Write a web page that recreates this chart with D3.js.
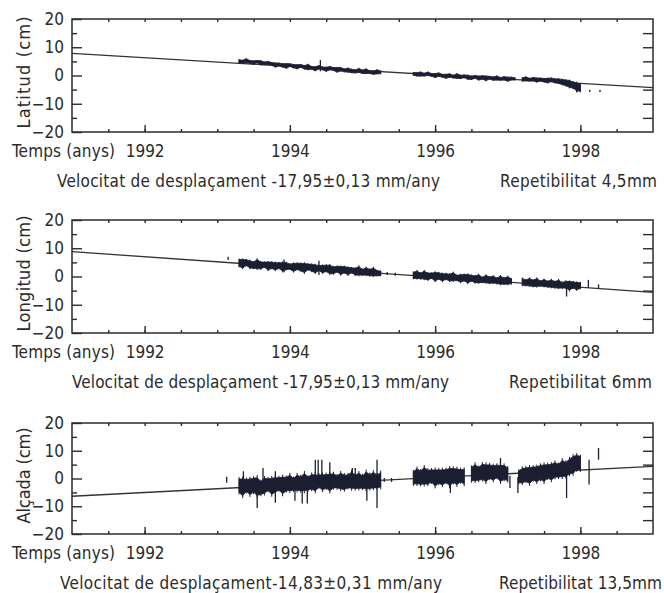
<!DOCTYPE html>
<html lang="ca">
<head>
<meta charset="UTF-8">
<title>GPS series</title>
<script src="https://cdn.jsdelivr.net/npm/d3@7"></script>
<style>
  body { margin: 0; background: #fff; }
  svg { display: block; }
  text { font-family: "DejaVu Sans Condensed", "DejaVu Sans", sans-serif; fill: #2b2b2b; }
</style>
</head>
<body>
<script>
// epochs (decimal years) of the plotted daily-solution bands
const epochs = [
  1993.30, 1993.35, 1993.40, 1993.45, 1993.50, 1993.55, 1993.60, 1993.65, 1993.70, 1993.75,
  1993.80, 1993.85, 1993.90, 1993.95, 1994.00, 1994.05, 1994.10, 1994.15, 1994.20, 1994.25,
  1994.30, 1994.35, 1994.40, 1994.45, 1994.50, 1994.55, 1994.60, 1994.65, 1994.70, 1994.75,
  1994.80, 1994.85, 1994.90, 1994.95, 1995.00, 1995.05, 1995.10, 1995.15, 1995.20, 1995.25,
  1995.30, 1995.35, 1995.40, 1995.45, 1995.50, 1995.55, 1995.60, 1995.65, 1995.70, 1995.75,
  1995.80, 1995.85, 1995.90, 1995.95, 1996.00, 1996.05, 1996.10, 1996.15, 1996.20, 1996.25,
  1996.30, 1996.35, 1996.40, 1996.45, 1996.50, 1996.55, 1996.60, 1996.65, 1996.70, 1996.75,
  1996.80, 1996.85, 1996.90, 1996.95, 1997.00, 1997.05, 1997.10, 1997.15, 1997.20, 1997.25,
  1997.30, 1997.35, 1997.40, 1997.45, 1997.50, 1997.55, 1997.60, 1997.65, 1997.70, 1997.75,
  1997.80, 1997.85, 1997.90, 1997.95, 1998.00
];

// Latitud (cm): band centre and half width
const latMid = [
  5.0, 4.9, 5.2, 4.8, 4.6, 4.9, 4.5, 4.3, 4.4, 4.1,
  3.7, 3.9, 3.6, 3.4, 3.7, 3.3, 3.1, 3.4, 2.9, 3.0,
  2.7, 2.4, 2.9, 2.5, 2.2, 2.6, 2.3, 2.0, 2.2, 1.8,
  1.9, 1.6, 1.4, 1.8, 1.3, 1.5, 1.2, 1.0, 1.3, 1.1,
  null, null, null, null, null, null, null, null, 0.6, 0.4,
  0.5, 0.3, 0.6, 0.2, 0.0, 0.3, -0.1, -0.3, 0.0, -0.4,
  -0.2, -0.5, -0.3, -0.6, -0.8, -0.5, -0.9, -0.7, -1.0, -0.8,
  -1.1, -0.9, -1.2, -1.0, -1.3, -1.1, -1.2, null, -1.4, -1.2,
  -1.5, -1.3, -1.6, -1.4, -1.7, -1.8, -1.5, -1.9, -2.0, -2.3,
  -2.6, -3.0, -3.4, -4.0, -4.4
];
const latHalf = [
  0.6, 0.5, 0.7, 0.5, 0.6, 0.4, 0.7, 0.5, 0.6, 0.5,
  0.7, 0.5, 0.6, 0.8, 0.5, 0.6, 0.7, 0.5, 0.6, 0.9,
  0.5, 0.7, 0.6, 0.5, 0.7, 0.6, 0.5, 0.8, 0.6, 0.5,
  0.7, 0.6, 0.5, 0.7, 0.6, 0.8, 0.5, 0.6, 0.7, 0.5,
  0, 0, 0, 0, 0, 0, 0, 0, 0.5, 0.6,
  0.7, 0.5, 0.6, 0.5, 0.7, 0.6, 0.5, 0.7, 0.6, 0.5,
  0.8, 0.6, 0.5, 0.7, 0.6, 0.5, 0.7, 0.6, 0.8, 0.5,
  0.6, 0.7, 0.5, 0.6, 0.7, 0.5, 0.4, 0, 0.6, 0.7,
  0.5, 0.6, 0.7, 0.5, 0.6, 0.8, 0.6, 0.7, 0.8, 0.9,
  1.0, 1.2, 1.1, 1.4, 1.2
];
const latSpikes = [[1994.42, 1.5, 5.5], [1997.95, -6.0, -3.0], [1998.13, -5.8, -5.0], [1998.27, -5.8, -5.0]];

// Longitud (cm)
const lonMid = [
  4.8, 4.5, 4.9, 4.3, 4.0, 4.4, 3.9, 4.2, 3.7, 4.0,
  3.6, 3.9, 3.4, 3.7, 3.5, 3.2, 3.6, 3.3, 3.0, 3.4,
  3.1, 2.7, 3.0, 2.6, 2.9, 2.5, 2.2, 2.6, 2.1, 2.4,
  1.9, 2.2, 1.7, 2.0, 1.5, 1.8, 1.4, 1.6, 1.2, 1.1,
  null, null, null, null, null, null, null, null, 0.4, 0.6,
  0.2, 0.5, 0.0, 0.3, -0.1, 0.2, -0.3, 0.0, -0.4, -0.1,
  -0.5, -0.7, -0.4, -0.8, -0.6, -1.0, -0.8, -1.2, -0.9, -1.3,
  -1.1, -1.5, -1.3, -1.6, -1.4, -1.7, null, null, -1.9, -2.2,
  -2.0, -2.4, -2.1, -2.5, -2.3, -2.7, -2.5, -2.9, -2.7, -3.1,
  -2.9, -3.3, -3.0, -3.4, -3.2
];
const lonHalf = [
  1.2, 1.5, 1.0, 1.3, 1.1, 1.6, 1.2, 0.9, 1.4, 1.1,
  1.3, 1.0, 1.5, 1.2, 0.9, 1.4, 1.1, 1.3, 1.6, 1.0,
  1.2, 1.4, 0.9, 1.3, 1.1, 1.5, 1.2, 1.0, 1.4, 1.1,
  1.3, 0.9, 1.2, 1.5, 1.0, 1.3, 1.1, 1.4, 0.9, 0.8,
  0, 0, 0, 0, 0, 0, 0, 0, 1.1, 1.3,
  1.0, 1.4, 1.2, 0.9, 1.5, 1.1, 1.3, 1.0, 1.2, 1.4,
  0.9, 1.3, 1.1, 1.5, 1.0, 1.2, 1.4, 0.9, 1.3, 1.1,
  1.2, 1.0, 1.4, 1.1, 1.3, 0.9, 0, 0, 1.2, 1.0,
  1.3, 1.1, 1.4, 0.9, 1.2, 1.0, 1.3, 1.1, 1.4, 1.0,
  1.2, 1.5, 1.1, 1.3, 1.0
];
const lonSpikes = [
  [1993.15, 5.8, 7.0], [1993.92, 1.5, 6.0], [1994.40, 0.5, 5.6], [1995.34, 0.5, 1.6],
  [1995.45, 0.3, 1.3], [1997.81, -7.1, -2.0], [1998.11, -4.1, -1.2], [1998.25, -4.1, -2.8]
];

// Alçada (cm)
const altMid = [
  -2.6, -3.2, -2.5, -3.0, -2.4, -2.9, -3.4, -2.6, -2.2, -2.8,
  -2.3, -1.9, -2.5, -2.0, -1.6, -2.1, -1.5, -1.9, -1.3, -1.8,
  -1.2, -1.6, -0.9, -1.4, -1.0, -1.5, -0.8, -1.2, -0.9, -1.4,
  -1.0, -0.6, -1.2, -0.8, -1.3, -0.7, -1.1, -0.6, -1.0, -0.5,
  null, null, null, null, null, null, null, null, 0.2, 0.8,
  0.3, 1.0, 0.5, 0.9, 0.2, 0.7, 0.4, 0.9, 0.5, 1.1,
  0.6, 1.0, 0.6, null, 1.6, 2.1, 1.7, 2.4, 1.9, 2.5,
  2.0, 2.6, 1.8, 2.2, 1.5, null, null, 0.6, 1.0, 1.4,
  1.1, 1.8, 1.5, 2.2, 1.9, 2.6, 2.3, 3.1, 2.8, 3.6,
  3.3, 4.3, 4.9, 5.8, 5.5
];
const altHalf = [
  2.4, 3.0, 2.2, 2.8, 2.5, 3.2, 2.3, 2.7, 2.1, 2.9,
  2.6, 2.2, 3.0, 2.4, 2.8, 2.1, 2.7, 2.5, 3.1, 2.3,
  2.6, 2.9, 2.2, 2.7, 2.4, 3.0, 2.5, 2.2, 2.8, 2.6,
  2.3, 2.9, 2.4, 2.7, 2.2, 3.0, 2.5, 2.8, 2.3, 2.6,
  0, 0, 0, 0, 0, 0, 0, 0, 2.2, 2.7,
  2.4, 3.0, 2.5, 2.2, 2.9, 2.4, 2.7, 2.3, 3.1, 2.5,
  2.8, 2.2, 2.6, 0, 2.4, 2.9, 2.3, 2.7, 3.0, 2.4,
  2.6, 2.2, 2.9, 2.5, 2.3, 0, 0, 2.1, 2.6, 2.4,
  2.9, 2.3, 2.7, 2.5, 3.0, 2.4, 2.8, 2.6, 2.3, 2.9,
  2.5, 2.7, 3.0, 2.6, 2.4
];
const altSpikes = [
  [1993.13, -1.5, 0.6], [1993.36, -4.0, 2.6], [1993.55, -10.6, -3.0], [1993.63, -2.0, 3.8],
  [1993.80, -8.7, 2.6], [1994.07, -8.0, -2.0], [1994.17, -9.0, -2.0], [1994.24, -9.0, -2.0],
  [1994.35, -1.0, 6.8], [1994.39, -1.0, 6.8], [1994.44, -1.0, 6.8], [1994.55, -1.0, 5.9],
  [1994.86, -1.0, 3.8], [1994.90, -1.0, 3.8], [1995.06, -8.0, -1.0], [1995.20, -10.6, 6.8],
  [1995.30, -1.2, 0.2], [1995.40, -1.2, 0.2], [1996.21, -5.2, 0.0], [1996.90, 1.0, 7.4],
  [1997.03, -3.4, 1.0], [1997.14, -5.2, 0.5], [1997.81, -7.0, 3.0], [1998.12, -2.2, 6.8],
  [1998.25, 6.8, 11.0]
];

// linear trends, value at 1991 and at 1999
const latTrend = [7.8, -4.3];
const lonTrend = [8.8, -5.6];
const altTrend = [-6.4, 4.4];

const axisTitles = ['Latitud (cm)', 'Longitud (cm)', 'Alçada (cm)'];
const speedLabels = [
  'Velocitat de desplaçament -17,95±0,13 mm/any',
  'Velocitat de desplaçament -17,95±0,13 mm/any',
  'Velocitat de desplaçament-14,83±0,31 mm/any'
];
const repeatLabels = ['Repetibilitat 4,5mm', 'Repetibilitat 6mm', 'Repetibilitat 13,5mm'];
const yearLabels = [1992, 1994, 1996, 1998];
const timeTitle = 'Temps (anys)';

let width = 664;
let height = 593;
let ink = '#2b2b2b';
let markColor = '#1c1f31';

let panels = [
  { mid: latMid, half: latHalf, spikes: latSpikes, trend: latTrend, top: 19, bottom: 132,
    titleLen: 112, speedX: 57, speedLen: 383, repX: 500, repLen: 157 },
  { mid: lonMid, half: lonHalf, spikes: lonSpikes, trend: lonTrend, top: 220, bottom: 333,
    titleLen: 116, speedX: 72, speedLen: 377, repX: 509, repLen: 143 },
  { mid: altMid, half: altHalf, spikes: altSpikes, trend: altTrend, top: 423, bottom: 534,
    titleLen: 96, speedX: 60, speedLen: 382, repX: 499, repLen: 163 }
];

let svg = d3.select('body').append('svg')
  .attr('width', width)
  .attr('height', height);

let x = d3.scaleLinear().domain([1991, 1999]).range([72, 653]);

panels.forEach(function (p, i) {
  let y = d3.scaleLinear().domain([-20, 20]).range([p.bottom, p.top]);
  let g = svg.append('g');

  // trend line
  g.append('line')
    .attr('x1', x(1991)).attr('y1', y(p.trend[0]))
    .attr('x2', x(1999)).attr('y2', y(p.trend[1]))
    .attr('stroke', '#333').attr('stroke-width', 1.3);

  // daily solution band
  let pts = epochs.map(function (t, j) {
    return { t: t, mid: p.mid[j], half: p.half[j] };
  });

  let band = d3.area()
    .defined(function (d) { return d.mid !== null; })
    .x(function (d) { return x(d.t); })
    .y0(function (d) { return y(d.mid - d.half); })
    .y1(function (d) { return y(d.mid + d.half); });

  g.append('path')
    .datum(pts)
    .attr('d', band)
    .attr('fill', markColor)
    .attr('stroke', markColor)
    .attr('stroke-width', 0.8)
    .attr('stroke-linejoin', 'round');

  // error bars at each epoch, a touch longer than the band, give the grainy texture
  g.selectAll('line.bar').data(pts.filter(function (d) { return d.mid !== null; }))
    .enter().append('line')
    .attr('class', 'bar')
    .attr('x1', function (d) { return x(d.t); })
    .attr('x2', function (d) { return x(d.t); })
    .attr('y1', function (d) { return y(d.mid - d.half * 1.3); })
    .attr('y2', function (d) { return y(d.mid + d.half * 1.3); })
    .attr('stroke', markColor).attr('stroke-width', 1);

  g.selectAll('line.spike').data(p.spikes).enter().append('line')
    .attr('class', 'spike')
    .attr('x1', function (d) { return x(d[0]); })
    .attr('x2', function (d) { return x(d[0]); })
    .attr('y1', function (d) { return y(d[1]); })
    .attr('y2', function (d) { return y(d[2]); })
    .attr('stroke', markColor).attr('stroke-width', 1.3);

  // frame
  g.append('rect')
    .attr('x', x(1991)).attr('y', p.top)
    .attr('width', x(1999) - x(1991)).attr('height', p.bottom - p.top)
    .attr('fill', 'none').attr('stroke', ink).attr('stroke-width', 1.5);

  let halfYears = d3.range(1991.5, 1999, 0.5);

  // bottom: major ticks with labels, minor half-year ticks
  let major = g.append('g')
    .attr('transform', 'translate(0,' + p.bottom + ')')
    .call(d3.axisBottom(x).tickValues(yearLabels).tickSize(-7).tickFormat(d3.format('d')));
  major.selectAll('text').attr('y', 25).attr('dy', 0);

  g.append('g')
    .attr('transform', 'translate(0,' + p.bottom + ')')
    .call(d3.axisBottom(x).tickValues(halfYears).tickSize(-3).tickFormat(''));

  g.append('g')
    .attr('transform', 'translate(0,' + p.top + ')')
    .call(d3.axisTop(x).tickValues(halfYears).tickSize(-3).tickFormat(''));

  // left axis
  g.append('g')
    .attr('transform', 'translate(' + x(1991) + ',0)')
    .call(d3.axisLeft(y).tickValues([-20, -10, 0, 10, 20]).tickSize(-10).tickPadding(8));

  g.append('g')
    .attr('transform', 'translate(' + x(1991) + ',0)')
    .call(d3.axisLeft(y).tickValues([-15, -5, 5, 15]).tickSize(-5).tickFormat(''));

  // right axis
  g.append('g')
    .attr('transform', 'translate(' + x(1999) + ',0)')
    .call(d3.axisRight(y).tickValues([-15, -10, -5, 0, 5, 10, 15]).tickSize(-10).tickFormat(''));

  g.selectAll('.domain').remove();
  g.selectAll('.tick line').attr('stroke', ink).attr('stroke-width', 1.4);
  g.selectAll('.tick text')
    .style('font-family', '"DejaVu Sans Condensed", sans-serif')
    .style('font-size', '17px')
    .attr('fill', ink);

  // texts
  g.append('text')
    .attr('transform', 'translate(30,' + ((p.top + p.bottom) / 2 - 3) + ') rotate(-90)')
    .attr('text-anchor', 'middle')
    .attr('textLength', p.titleLen)
    .style('font-size', '18px')
    .text(axisTitles[i]);

  g.append('text')
    .attr('x', 12).attr('y', p.bottom + 25)
    .attr('textLength', 103)
    .style('font-size', '17px')
    .text(timeTitle);

  g.append('text')
    .attr('x', p.speedX).attr('y', p.bottom + 55)
    .attr('textLength', p.speedLen)
    .style('font-size', '17px')
    .text(speedLabels[i]);

  g.append('text')
    .attr('x', p.repX).attr('y', p.bottom + 55)
    .attr('textLength', p.repLen)
    .style('font-size', '17px')
    .text(repeatLabels[i]);
});
</script>
</body>
</html>
